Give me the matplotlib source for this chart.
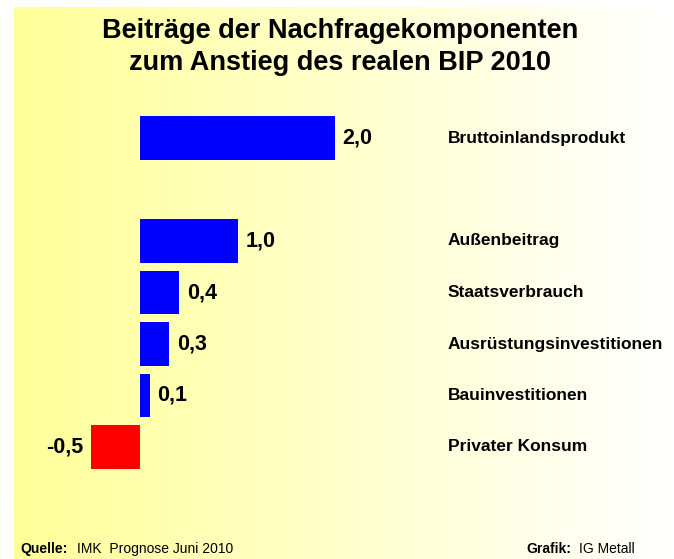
#!/usr/bin/env python
"""
Beitraege der Nachfragekomponenten zum Anstieg des realen BIP 2010.
"""

import numpy as np
import matplotlib
matplotlib.use("Agg")
import matplotlib.pyplot as plt
from matplotlib.colors import LinearSegmentedColormap

categories = ["Bruttoinlandsprodukt", "Außenbeitrag", "Staatsverbrauch",
              "Ausrüstungsinvestitionen", "Bauinvestitionen", "Privater Konsum"]
values = [2.0, 1.0, 0.4, 0.3, 0.1, -0.5]
slots = [0, 2, 3, 4, 5, 6]   # empty row between BIP and the components

title_lines = ["Beiträge der Nachfragekomponenten", "zum Anstieg des realen BIP 2010"]
source = ("Quelle:", "IMK  Prognose Juni 2010")
credit = ("Grafik:", "IG Metall")

W, H = 674, 559
plt.rcParams['font.family'] = ['Liberation Sans', 'DejaVu Sans']

fig = plt.figure(figsize=(W / 100, H / 100), dpi=100)
fig.patch.set_facecolor('white')

# yellow -> white gradient panel
bg = fig.add_axes([14 / W, 0, 1 - 14 / W, 1 - 7 / H])
bg.set_axis_off()
cmap = LinearSegmentedColormap.from_list("yw", ["#ffff99", "#ffffff"])
bg.imshow(np.linspace(0, 1, 256)[None, :], aspect='auto', cmap=cmap,
          extent=[0, 1, 0, 1])

# bar axes spanning the whole figure, zero line at 140px, 97.5px per unit
ax = fig.add_axes([0, 0, 1, 1])
ax.set_axis_off()
ax.patch.set_alpha(0)
px_unit = 97.5
ax.set_xlim(-140 / px_unit, (W - 140) / px_unit)
row = 51.5
ax.set_ylim((H - 138) / row, -138 / row)

colors = ['#ff0000' if v < 0 else '#0000ff' for v in values]
ax.barh(slots, values, height=0.835, color=colors, linewidth=0)

lab_tf = matplotlib.transforms.blended_transform_factory(fig.transFigure, ax.transData)
for s, v, name in zip(slots, values, categories):
    txt = "{:.1f}".format(v).replace('.', ',')
    if v < 0:
        ax.annotate(txt, (v, s), xytext=(-5.5, 0), textcoords='offset points',
                    ha='right', va='center', fontsize=15.5, fontweight='bold')
    else:
        ax.annotate(txt, (v, s), xytext=(5.5, 0), textcoords='offset points',
                    ha='left', va='center', fontsize=15.5, fontweight='bold')
    ax.text(448 / W, s, name, transform=lab_tf, ha='left', va='center',
            fontsize=12.5, fontweight='bold')

for line, base in zip(title_lines, [38, 70]):
    fig.text(340 / W, 1 - base / H, line, ha='center', va='baseline',
             fontsize=19.5, fontweight='bold')

y_foot = 1 - 553 / H
fig.text(20 / W, y_foot, source[0], fontsize=10, fontweight='bold', va='baseline')
fig.text(77 / W, y_foot, source[1], fontsize=10, va='baseline')
fig.text(526 / W, y_foot, credit[0], fontsize=10, fontweight='bold', va='baseline')
fig.text(579 / W, y_foot, credit[1], fontsize=10, va='baseline')

fig.savefig("out.png", dpi=100)
